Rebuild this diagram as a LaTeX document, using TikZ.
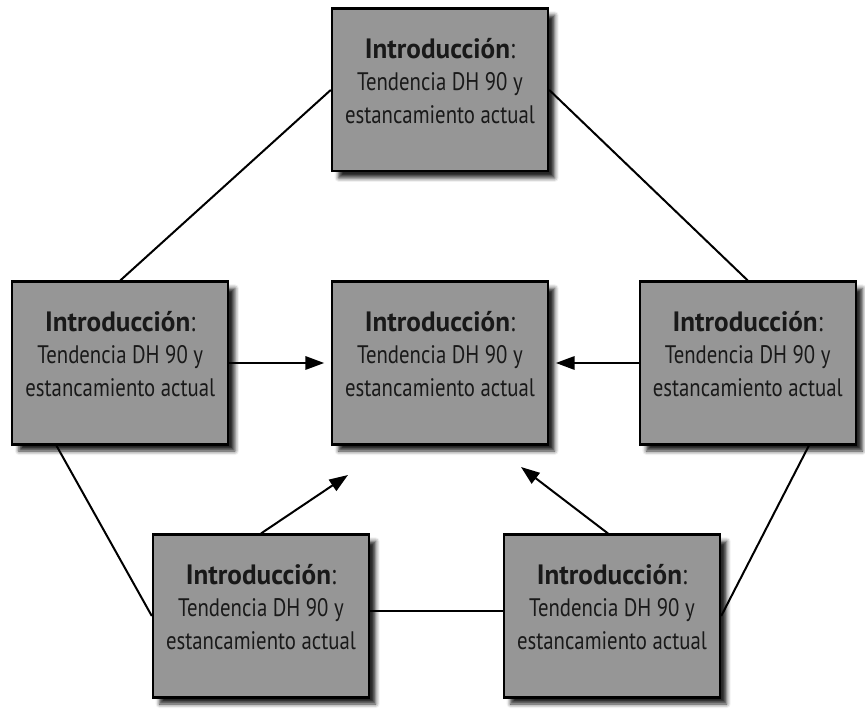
\documentclass[tikz,border=0pt]{standalone}
\usepackage{fontspec}
\setmainfont[FakeStretch=0.82, BoldFeatures={FakeStretch=0.97}]{PT Sans}
\usepackage{tikz}
\usetikzlibrary{calc,positioning,arrows.meta,shadows.blur}

\begin{document}
\begin{tikzpicture}[
    x=0.75pt, y=-0.75pt,
    node distance=76pt,
    intro/.style={
        % The shape:
        rectangle,
        minimum width=162pt,
        minimum height=122pt,
        text depth=14pt,
        align=center,
        % The fill
        draw=black,
        line width=1.8pt,
        fill=black!41,
        blur shadow={shadow xshift=5pt, shadow yshift=-5pt,
                     shadow blur radius=3pt, shadow opacity=85},
        % The fonts
        text=black!90,
        font=\fontsize{19}{24.5}\selectfont},
    link/.style={line width=1.5pt},
    flow/.style={line width=1.5pt, -{Triangle[length=14pt,width=10pt]}}
  ]
  \useasboundingbox (0,0) rectangle (865,709);
  \newcommand\introtext{{\fontsize{21}{24.5}\selectfont\textbf{Introducción}:}\\Tendencia DH 90 y\\estancamiento actual}

  \node (centre) [intro] at (440,363) {\introtext};
  \node (top) [intro,above=81pt of centre] {\introtext};
  \node (left) [intro,left=of centre] {\introtext};
  \node (right) [intro,right=67pt of centre] {\introtext};
  \node (bottom left) [intro] at (261,616) {\introtext};
  \node (bottom right) [intro] at (612,616) {\introtext};

  \coordinate (tip left) at (348,475);
  \coordinate (tip right) at (521,467);

  % the ring
  \draw [link] (top.west) -- (left.north);
  \draw [link] (top.east) -- (right.north);
  \draw [link] ([xshift=34pt]left.south west) -- (bottom left.west);
  \draw [link] ([xshift=-36pt]right.south east) -- (bottom right.east);
  \draw [link] ([yshift=4pt]bottom left.east) -- ([yshift=4pt]bottom right.west);

  % towards the centre
  \draw [flow,shorten >=5pt] (left) -- (centre);
  \draw [flow,shorten >=5pt] (right) -- (centre);
  \draw [flow] (bottom left.north) -- (tip left);
  \draw [flow] ([xshift=-3pt]bottom right.north) -- (tip right);
\end{tikzpicture}
\end{document}
